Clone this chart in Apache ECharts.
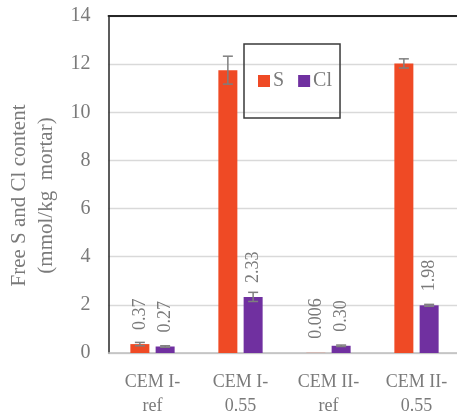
<!DOCTYPE html>
<html>
<head>
<meta charset="utf-8">
<script src="https://cdn.jsdelivr.net/npm/echarts@6/dist/echarts.min.js"></script>
<style>html,body{margin:0;padding:0;background:#fff}#c{width:457px;height:418px}</style>
</head>
<body>
<div id="c"></div>
<script>
// ---- data ----
var categories = ['CEM I-\nref', 'CEM I-\n0.55', 'CEM II-\nref', 'CEM II-\n0.55'];
var sValues  = [0.37, 11.75, 0.006, 12.03];
var clValues = [0.27, 2.33, 0.30, 1.98];
var sErrors  = [0.07, 0.58, 0, 0.19];
var clErrors = [0.03, 0.19, 0.03, 0.04];
var sLabels  = ['0.37', '', '0.006', ''];
var clLabels = ['0.27', '2.33', '0.30', '1.98'];
var yTicks   = [0, 2, 4, 6, 8, 10, 12, 14];

// ---- style ----
var FONT = "'Liberation Serif', 'Times New Roman', serif";
var TXT = '#7a7a7a';
var BAR_W = 19, GAP_RATIO = 0.33;
var OFF = (BAR_W + BAR_W * GAP_RATIO) / 2;

function errSeries(name, vals, errs, dir) {
  return {
    type: 'custom',
    name: name + ' err',
    z: 5,
    silent: true,
    data: vals.map(function (v, i) { return [i, v, errs[i]]; }),
    renderItem: function (params, api) {
      var i = api.value(0), v = api.value(1), e = api.value(2);
      if (!e) return null;
      var hi = api.coord([i, v + e]);
      var lo = api.coord([i, v - e]);
      var x = hi[0] + dir * OFF;
      var cap = 5;
      var st = { stroke: '#7f7f7f', lineWidth: 1.5 };
      return {
        type: 'group',
        children: [
          { type: 'line', shape: { x1: x, y1: hi[1], x2: x, y2: lo[1] }, style: st },
          { type: 'line', shape: { x1: x - cap, y1: hi[1], x2: x + cap, y2: hi[1] }, style: st },
          { type: 'line', shape: { x1: x - cap, y1: lo[1], x2: x + cap, y2: lo[1] }, style: st }
        ]
      };
    }
  };
}

function labelCfg(arr) {
  return {
    show: true,
    position: 'top',
    rotate: 90,
    align: 'left',
    verticalAlign: 'middle',
    distance: 14,
    fontFamily: FONT,
    fontSize: 18,
    color: TXT,
    formatter: function (p) { return arr[p.dataIndex]; }
  };
}

var chart = echarts.init(document.getElementById('c'), null, { renderer: 'canvas' });
chart.setOption({
  animation: false,
  backgroundColor: '#fff',
  grid: { left: 108.5, right: -3.5, top: 16, bottom: 65, containLabel: false, outerBoundsMode: 'none' },
  legend: {
    left: 244, top: 44,
    padding: [27, 8, 27, 14],
    borderColor: '#3a3a3a', borderWidth: 1.5,
    itemWidth: 12, itemHeight: 12, itemGap: 14,
    icon: 'rect',
    data: ['S', 'Cl'],
    textStyle: { fontFamily: FONT, fontSize: 20, color: TXT, padding: [2, 0, 0, -2] }
  },
  xAxis: [{
    type: 'category',
    data: categories,
    axisTick: { show: false },
    axisLine: { lineStyle: { color: '#bfbfbf', width: 1.5 } },
    axisLabel: { fontFamily: FONT, fontSize: 18, color: TXT, lineHeight: 24, margin: 17, interval: 0 }
  }, {
    type: 'category',
    position: 'top',
    data: categories,
    axisTick: { show: false },
    axisLabel: { show: false },
    axisLine: { lineStyle: { color: '#262626', width: 1.8 } }
  }],
  yAxis: {
    type: 'value',
    min: yTicks[0], max: yTicks[yTicks.length - 1], interval: 2,
    name: 'Free S and Cl content\n(mmol/kg  mortar)',
    nameLocation: 'middle',
    nameGap: 48,
    nameTextStyle: { fontFamily: FONT, fontSize: 21, color: TXT, lineHeight: 27, padding: [0, 22, 0, 0] },
    axisLine: { show: true, lineStyle: { color: '#262626', width: 1.5 } },
    axisTick: { show: false },
    axisLabel: { fontFamily: FONT, fontSize: 20, color: TXT, margin: 18 },
    splitLine: { lineStyle: { color: '#d9d9d9', width: 1.3 } }
  },
  series: [
    {
      name: 'S', type: 'bar', data: sValues,
      barWidth: BAR_W, barGap: (GAP_RATIO * 100) + '%',
      itemStyle: { color: '#EF4A25' },
      label: labelCfg(sLabels)
    },
    {
      name: 'Cl', type: 'bar', data: clValues,
      barWidth: BAR_W, barGap: (GAP_RATIO * 100) + '%',
      itemStyle: { color: '#7030A0' },
      label: labelCfg(clLabels)
    },
    errSeries('S', sValues, sErrors, -1),
    errSeries('Cl', clValues, clErrors, 1)
  ]
});
</script>
</body>
</html>
